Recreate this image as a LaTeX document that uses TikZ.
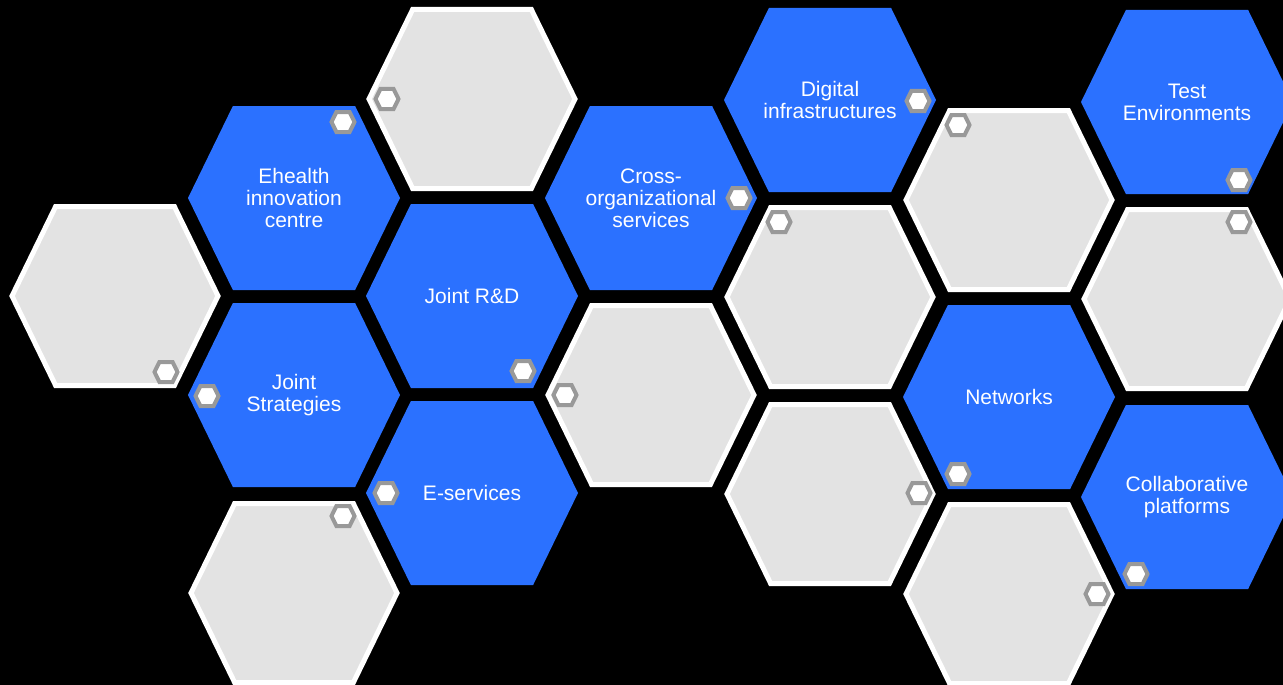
\documentclass[tikz,border=0pt]{standalone}
\usepackage{fontspec}
\setmainfont{Liberation Sans}
\usepackage{tikz}
\usetikzlibrary{shapes.symbols, positioning, calc}

\definecolor{hexblue}{HTML}{2B71FF}
\definecolor{hexgray}{HTML}{E3E3E3}
\definecolor{nutgray}{HTML}{999999}

\begin{document}
\begin{tikzpicture}[
  x=1pt, y=-1pt,
  hexbase/.style = {signal, signal to=east and west, signal pointer angle=128, inner sep=0pt},
  topic/.style = {hexbase, fill=hexblue, minimum width=212pt, minimum height=184pt,
                  inner xsep=-35pt, text=white, align=center,
                  font=\fontsize{21}{22}\selectfont},
  blank/.style = {hexbase, fill=hexgray, draw=white, line width=5pt,
                  minimum width=206pt, minimum height=179pt},
  nut/.style = {hexbase, fill=white, draw=nutgray, line width=4pt,
                minimum width=23pt, minimum height=20pt}
]

  % Background and frame
  \path[use as bounding box, fill=black] (0,0) rectangle (1283,685);
  \clip (0,0) rectangle (1283,685);

  % Column 1
  \node[blank] (blankA) at (115,296) {};

  % Column 2
  \node[topic] (ehealth) at (294,198) {Ehealth\\innovation\\centre};
  \node[topic] (strategies) at (294,395) {Joint\\Strategies};
  \node[blank] (blankB) at (294,593) {};

  % Column 3
  \node[blank] (blankC) at (472,99) {};
  \node[topic] (rnd) at (472,296) {Joint R\&D};
  \node[topic] (eservices) at (472,493) {E-services};

  % Column 4
  \node[topic] (crossorg) at (651,198) {Cross-\\organizational\\services};
  \node[blank] (blankD) at (651,395) {};

  % Column 5
  \node[topic] (digital) at (830,100) {Digital\\infrastructures};
  \node[blank] (blankE) at (830,297) {};
  \node[blank] (blankF) at (830,494) {};

  % Column 6
  \node[blank] (blankG) at (1009,200) {};
  \node[topic] (networks) at (1009,397) {Networks};
  \node[blank] (blankH) at (1009,594) {};

  % Column 7
  \node[topic] (testenv) at (1187,102) {Test\\Environments};
  \node[blank] (blankI) at (1187,299) {};
  \node[topic] (collab) at (1187,497) {Collaborative\\platforms};

  % Small nuts on the hexagons
  \node[nut] (nutA) at ($(blankA)+(51,76)$) {};
  \node[nut] (nutEhealth) at ($(ehealth)+(49,-76)$) {};
  \node[nut] (nutStrategies) at ($(strategies)+(-87,1)$) {};
  \node[nut] (nutB) at ($(blankB)+(49,-77)$) {};
  \node[nut] (nutC) at ($(blankC)+(-85,0)$) {};
  \node[nut] (nutRnd) at ($(rnd)+(51,75)$) {};
  \node[nut] (nutEservices) at ($(eservices)+(-86,0)$) {};
  \node[nut] (nutCrossorg) at ($(crossorg)+(88,0)$) {};
  \node[nut] (nutD) at ($(blankD)+(-86,0)$) {};
  \node[nut] (nutDigital) at ($(digital)+(88,1)$) {};
  \node[nut] (nutE) at ($(blankE)+(-51,-75)$) {};
  \node[nut] (nutF) at ($(blankF)+(89,-1)$) {};
  \node[nut] (nutG) at ($(blankG)+(-51,-75)$) {};
  \node[nut] (nutNetworks) at ($(networks)+(-51,77)$) {};
  \node[nut] (nutH) at ($(blankH)+(88,0)$) {};
  \node[nut] (nutTestenv) at ($(testenv)+(52,78)$) {};
  \node[nut] (nutI) at ($(blankI)+(52,-77)$) {};
  \node[nut] (nutCollab) at ($(collab)+(-51,77)$) {};

\end{tikzpicture}
\end{document}
